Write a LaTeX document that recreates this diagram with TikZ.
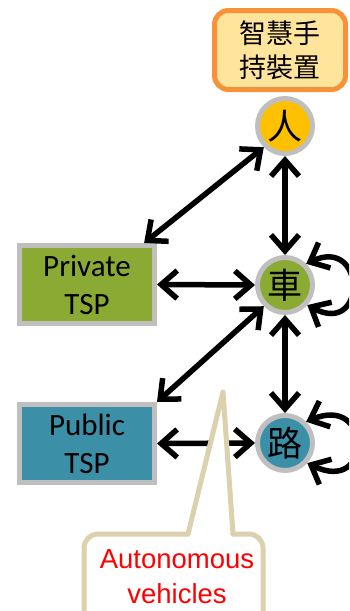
\documentclass[tikz,border=0pt]{standalone}
\usepackage{fontspec}
\setmainfont{Carlito}
\newfontfamily\cjk{Noto Sans CJK TC}
\newfontfamily\arialf{Liberation Sans}
\usetikzlibrary{arrows.meta,calc}
\definecolor{gold}{HTML}{FFC000}
\definecolor{vgreen}{HTML}{8BAA33}
\definecolor{vteal}{HTML}{3B8FA6}
\definecolor{rimgray}{HTML}{BFBFBF}
\definecolor{orangeb}{HTML}{F7923A}
\definecolor{orangef}{HTML}{FFE49C}
\definecolor{tanline}{HTML}{DDD0AE}
\begin{document}
\begin{tikzpicture}[x=1pt,y=-1pt,
  agent/.style={circle, draw=rimgray, line width=5pt, minimum size=55pt, inner sep=0pt,
    font=\cjk\fontsize{35}{35}\selectfont},
  tsp/.style={rectangle, draw=rimgray, line width=5pt, minimum width=135pt, minimum height=78pt,
    inner sep=0pt, align=center, font=\fontsize{31}{38}\selectfont},
  devbox/.style={rectangle, rounded corners=14pt, draw=orangeb, fill=orangef, line width=5pt,
    minimum width=131pt, minimum height=79pt, inner sep=0pt, align=center,
    font=\cjk\fontsize{27}{34}\selectfont},
  barb/.tip={Straight Barb[length=16pt,width=28pt]},
  link/.style={line width=5.5pt, black, barb-barb},
  callout/.style={draw=tanline, line width=5pt, line join=round, line cap=round},
  avtext/.style={align=center, text=red, font=\arialf\fontsize{27.5}{35}\selectfont, inner sep=0pt}
]
\clip (0,0) rectangle (349,611);

\node[devbox] (dev) at (280,50) {智慧手\\持裝置};
\node[agent, fill=gold] (ren) at (285,126) {人};
\node[agent, fill=vgreen] (che) at (285,285) {車};
\node[agent, fill=vteal] (lu) at (285,443) {路};
\node[tsp, fill=vgreen] (priv) at (87,284.5) {Private\\TSP};
\node[tsp, fill=vteal] (pub) at (87,443.5) {Public\\TSP};

\draw[link] (ren.south) -- (che.north);
\draw[link] (ren.225) -- (priv.36);
\draw[link] (priv.east) -- (che.west);
\draw[link] (che.225) -- (pub.north east);
\draw[link] (che.south) -- (lu.north);
\draw[link] (pub.east) -- (lu.west);
\draw[link] (che.45) .. controls +(60,-28) and +(60,32) .. (che.-42);
\draw[link] (lu.45) .. controls +(66,-28) and +(66,32) .. (lu.-42);

% callout
\fill[white, rounded corners=14pt] (84,534) rectangle (263,660);
\fill[white] (188,534) -- (223,392) -- (233,534) -- cycle;
\draw[callout, rounded corners=14pt] (188,534) -- (84,534) -- (84,660) -- (263,660) -- (263,534) -- (233,534);
\draw[callout] (233,534) -- (223,392) -- (188,534);
\node[avtext] (av) at (177,577) {Autonomous\\vehicles};
\end{tikzpicture}
\end{document}
